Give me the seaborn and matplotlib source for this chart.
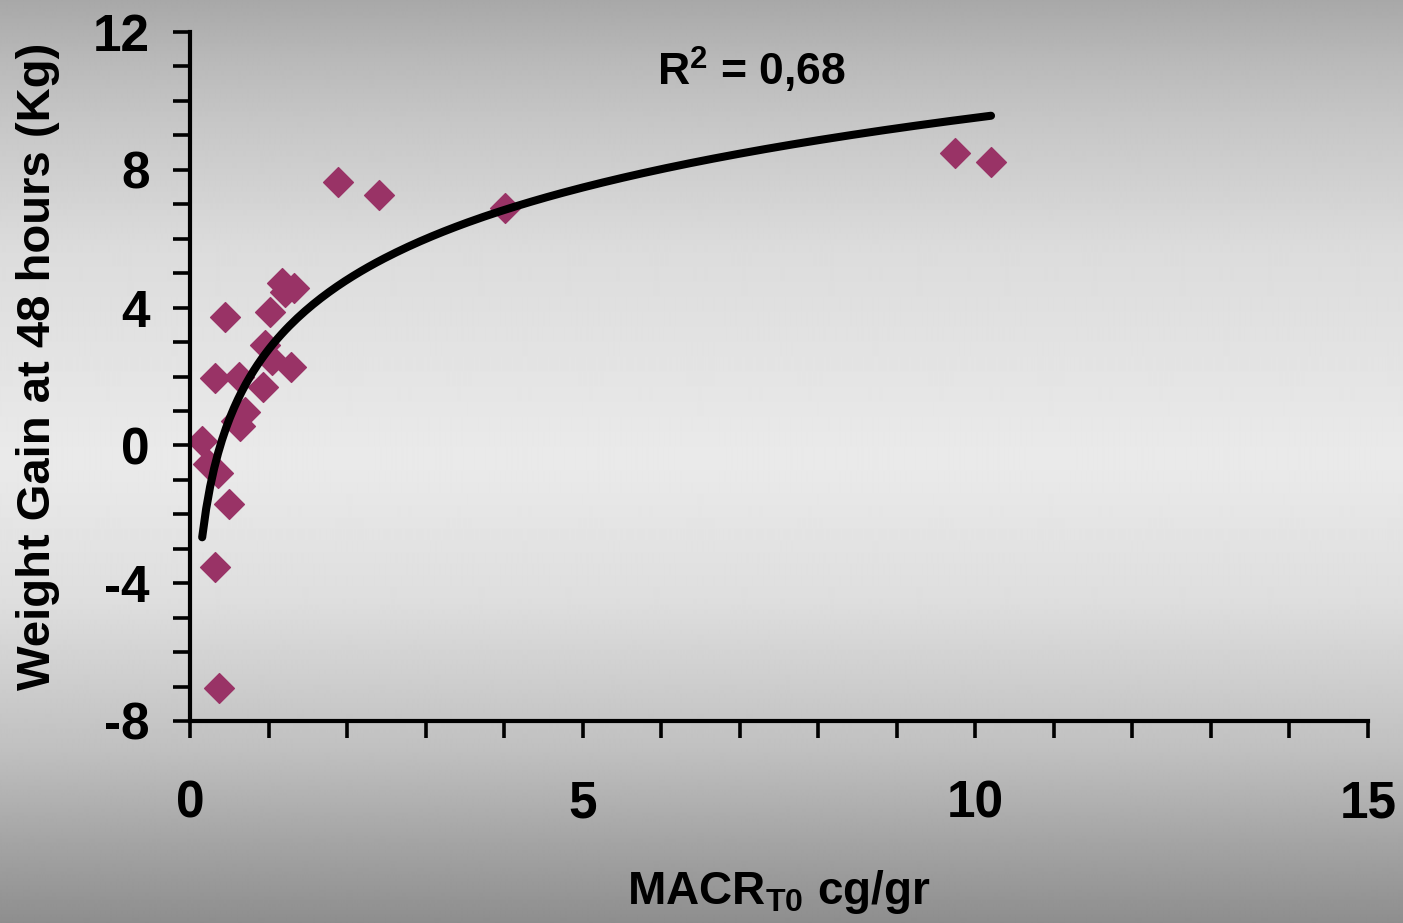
import numpy as np
import pandas as pd
import matplotlib
matplotlib.use("Agg")
import matplotlib.pyplot as plt
import seaborn as sns
from matplotlib.ticker import MultipleLocator

# ---- data ----
macr = [0.155, 0.23, 0.36, 0.32, 0.45, 0.32, 0.37, 0.50, 0.62, 0.59, 0.64, 0.70,
        0.93, 0.95, 1.04, 1.02, 1.17, 1.21, 1.33, 1.29, 1.88, 2.41, 4.01, 9.74, 10.2]
gain = [0.13, -0.55, -0.80, 1.96, 3.73, -3.53, -7.04, -1.70, 2.00, 0.70, 0.55, 0.97,
        1.70, 2.91, 2.48, 3.87, 4.71, 4.45, 4.56, 2.28, 7.65, 7.27, 6.89, 8.49, 8.23]
x_ticks = [0, 5, 10, 15]
y_ticks = [-8, -4, 0, 4, 8, 12]
r2_text = "R$^2$ = 0,68"
xlabel = r"$\mathbf{MACR_{T0}\ cg/gr}$"
ylabel = "Weight Gain at 48 hours (Kg)"

df = pd.DataFrame({"macr": macr, "gain": gain})

# logarithmic trendline fitted to the data
a, b = np.polyfit(np.log(df["macr"]), df["gain"], 1)
xs = np.linspace(df["macr"].min(), df["macr"].max(), 200)
fit = pd.DataFrame({"x": xs, "y": a * np.log(xs) + b})

sns.set_theme(style="white")
plt.rcParams["font.family"] = ["Liberation Sans", "DejaVu Sans"]
plt.rcParams["axes.unicode_minus"] = False
plt.rcParams["mathtext.fontset"] = "custom"
plt.rcParams["mathtext.rm"] = "Liberation Sans:bold"
plt.rcParams["mathtext.bf"] = "Liberation Sans:bold"
plt.rcParams["mathtext.it"] = "Liberation Sans:bold"

W, H = 1403, 923
fig = plt.figure(figsize=(W / 100, H / 100), dpi=100)

# vertical grey gradient background
bg = fig.add_axes([0, 0, 1, 1], zorder=-10)
stops_y = np.array([0, 60, 120, 250, 460, 600, 750, 840, 923])
stops_v = np.array([168, 185, 198, 220, 234, 222, 192, 165, 142]) / 255.0
rows = np.interp(np.arange(H), stops_y, stops_v)
img = np.repeat(rows[:, None], 4, axis=1)
bg.imshow(img, cmap="gray", vmin=0, vmax=1, aspect="auto", extent=[0, 1, 0, 1],
          interpolation="bilinear")
bg.set_axis_off()

ax = fig.add_axes([190 / W, 1 - 721 / H, (1368 - 190) / W, (721 - 32) / H])
ax.set_facecolor("none")

sns.lineplot(data=fit, x="x", y="y", ax=ax, color="black", linewidth=5.8, zorder=3)
sns.scatterplot(data=df, x="macr", y="gain", ax=ax, marker="D", s=230,
                color="#993366", edgecolor="#993366", linewidth=1, zorder=2)

ax.set_xlim(0, 15)
ax.set_ylim(-8, 12)
ax.set_xticks(x_ticks)
ax.set_yticks(y_ticks)
ax.xaxis.set_minor_locator(MultipleLocator(1))
ax.yaxis.set_minor_locator(MultipleLocator(1))
ax.tick_params(which="both", direction="out", length=12, width=2.6, color="black",
               bottom=True, left=True)
ax.tick_params(axis="x", which="major", labelsize=37, pad=30)
ax.tick_params(axis="y", which="major", labelsize=37, pad=17)
for lab in ax.get_xticklabels() + ax.get_yticklabels():
    lab.set_fontweight("bold")
    lab.set_color("black")

for s in ["top", "right"]:
    ax.spines[s].set_visible(False)
for s in ["left", "bottom"]:
    ax.spines[s].set_color("black")
    ax.spines[s].set_linewidth(3)

ax.set_xlabel(xlabel, fontsize=33, color="black")
ax.set_ylabel(ylabel, fontsize=34, fontweight="bold", color="black")
ax.xaxis.set_label_coords(0.5, -0.248)
ax.xaxis.label.set_verticalalignment("center")
ax.yaxis.set_label_coords(-0.129, 0.515)
ax.yaxis.label.set_verticalalignment("center")

ax.text(0.477, 0.9445, r2_text, transform=ax.transAxes, fontsize=32,
        fontweight="bold", color="black", ha="center", va="center")

fig.savefig("out.png", dpi=100)
